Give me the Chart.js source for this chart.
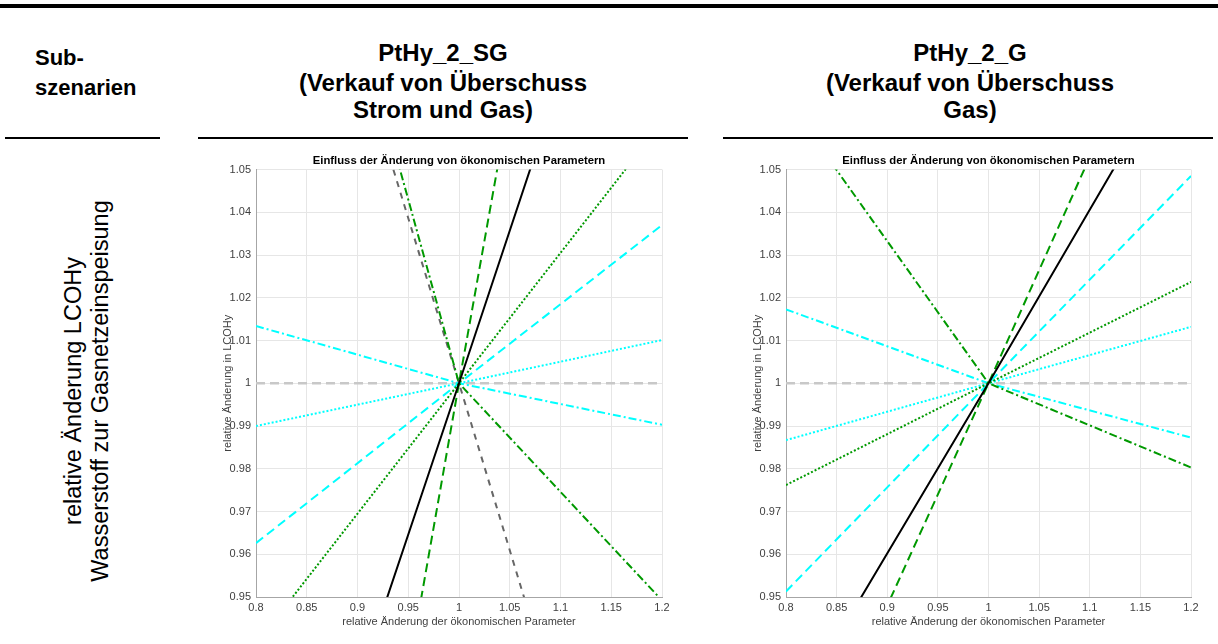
<!DOCTYPE html>
<html>
<head>
<meta charset="utf-8">
<script src="https://cdn.jsdelivr.net/npm/chart.js@4.4.0/dist/chart.umd.min.js"></script>
<style>
  body { margin: 0; background: #fff; width: 1218px; height: 644px; position: relative; overflow: hidden;
         font-family: "Liberation Sans", Arial, sans-serif; color: #000; }
  .rule { position: absolute; background: #000; }
  .hd { position: absolute; font-weight: bold; font-size: 24px; white-space: nowrap; transform: translate(-50%, -50%); }
  .hdl { position: absolute; font-weight: bold; font-size: 22px; white-space: nowrap; transform: translateY(-50%); }
  .side { position: absolute; left: 87px; top: 391px; font-size: 23.5px; line-height: 27px; text-align: center;
          white-space: nowrap; transform: translate(-50%, -50%) rotate(-90deg); }
  canvas { position: absolute; }
</style>
</head>
<body>

<div class="rule" style="left:0; top:4px; width:1218px; height:4px;"></div>
<div class="rule" style="left:5px; top:137px; width:155px; height:2px;"></div>
<div class="rule" style="left:198px; top:137px; width:490px; height:2px;"></div>
<div class="rule" style="left:723px; top:137px; width:490px; height:2px;"></div>

<div class="hdl" style="left:35px; top:58px;">Sub-</div>
<div class="hdl" style="left:35px; top:88px;">szenarien</div>

<div class="hd" style="left:443px; top:53px;">PtHy_2_SG</div>
<div class="hd" style="left:443px; top:83px;">(Verkauf von Überschuss</div>
<div class="hd" style="left:443px; top:110px;">Strom und Gas)</div>

<div class="hd" style="left:970px; top:53px;">PtHy_2_G</div>
<div class="hd" style="left:970px; top:83px;">(Verkauf von Überschuss</div>
<div class="hd" style="left:970px; top:110px;">Gas)</div>

<div class="side">relative Änderung LCOHy<br>Wasserstoff zur Gasnetzeinspeisung</div>

<canvas id="chartSG" width="462" height="484" style="left:218px; top:150px;"></canvas>
<canvas id="chartG" width="467" height="484" style="left:748px; top:150px;"></canvas>

<script>
// relative change of the parameter (x)
const xValues = [0.8, 1, 1.2];

// PtHy_2_SG - relative change of LCOHy
const sgBaseline    = [1, 1, 1];
const sgCyanDotted  = [0.99, 1, 1.0101];
const sgCyanDashed  = [0.9626, 1, 1.037];
const sgCyanDashDot = [1.0134, 1, 0.9903];
const sgGreenDotted = [0.939, 1, 1.061];
const sgGreenDashed = [0.73, 1, 1.266];
const sgBlack       = [0.8584, 1, 1.1428];
const sgGrayDashed  = [1.1546, 1, 0.8438];
const sgGreenDashDot = [1.172, 1, 0.9492];

// PtHy_2_G - relative change of LCOHy
const gBaseline    = [1, 1, 1];
const gCyanDotted  = [0.9867, 1, 1.0132];
const gGreenDotted = [0.9762, 1, 1.0237];
const gCyanDashed  = [0.9513, 1, 1.0485];
const gBlack       = [0.9204, 1, 1.0812];
const gGreenDashed = [0.896, 1, 1.1058];
const gGreenDashDot = [1.0665, 1, 0.9803];
const gCyanDashDot = [1.0173, 1, 0.9873];

const chartTitle = "Einfluss der Änderung von ökonomischen Parametern";
const xTitle = "relative Änderung der ökonomischen Parameter";
const yTitle = "relative Änderung in LCOHy";

const GREEN = "#009900";
const CYAN = "#00ffff";

const dash = {
  solid: [],
  dashed: [9, 5],
  grayDashed: [6, 6],
  dotted: [2, 2],
  dashDot: [8, 3, 2, 3]
};

function series(values, color, style, width) {
  return {
    data: xValues.map((x, i) => ({ x: x, y: values[i] })),
    borderColor: color,
    borderDash: dash[style],
    borderWidth: width || 2,
    borderCapStyle: "butt",
    pointRadius: 0,
    fill: false,
    tension: 0
  };
}

function fmt(v) {
  return String(Number(v.toFixed(2)));
}

function makeOptions(padRight) {
  return {
    responsive: false,
    animation: false,
    layout: { padding: { left: 3, right: padRight, top: 0, bottom: 3 } },
    plugins: {
      legend: { display: false },
      tooltip: { enabled: false },
      title: {
        display: true,
        text: chartTitle,
        fullSize: false,
        color: "#000",
        font: { family: "Liberation Sans, Arial", size: 11.3, weight: "bold" },
        padding: { top: 4, bottom: 2 }
      }
    },
    scales: {
      x: {
        type: "linear",
        min: 0.8,
        max: 1.2,
        afterFit: s => { s.height = 34; },
        ticks: {
          stepSize: 0.05,
          padding: 4,
          color: "#404040",
          font: { family: "Liberation Sans, Arial", size: 11 },
          callback: v => fmt(v)
        },
        grid: { color: "#e6e6e6", drawTicks: false },
        border: { color: "#a6a6a6" },
        title: {
          display: true,
          text: xTitle,
          color: "#404040",
          font: { family: "Liberation Sans, Arial", size: 11 },
          padding: { top: 0, bottom: 2 }
        }
      },
      y: {
        min: 0.95,
        max: 1.05,
        afterFit: s => { s.width = 35; },
        ticks: {
          stepSize: 0.01,
          padding: 5,
          color: "#404040",
          font: { family: "Liberation Sans, Arial", size: 11 },
          callback: v => fmt(v)
        },
        grid: { color: "#e6e6e6", drawTicks: false },
        border: { color: "#a6a6a6" },
        title: {
          display: true,
          text: yTitle,
          color: "#404040",
          font: { family: "Liberation Sans, Arial", size: 11 },
          padding: { top: 0, bottom: 0 }
        }
      }
    }
  };
}

new Chart(document.getElementById("chartSG"), {
  type: "line",
  data: {
    datasets: [
      series(sgBlack, "#000000", "solid"),
      series(sgGreenDashed, GREEN, "dashed"),
      series(sgGreenDotted, GREEN, "dotted"),
      series(sgGreenDashDot, GREEN, "dashDot"),
      series(sgGrayDashed, "#666666", "grayDashed"),
      series(sgCyanDashed, CYAN, "dashed"),
      series(sgCyanDotted, CYAN, "dotted"),
      series(sgCyanDashDot, CYAN, "dashDot"),
      series(sgBaseline, "#c8c8c8", "dashed", 2.5)
    ]
  },
  options: makeOptions(18)
});

new Chart(document.getElementById("chartG"), {
  type: "line",
  data: {
    datasets: [
      series(gBlack, "#000000", "solid"),
      series(gGreenDashed, GREEN, "dashed"),
      series(gGreenDotted, GREEN, "dotted"),
      series(gGreenDashDot, GREEN, "dashDot"),
      series(gCyanDashed, CYAN, "dashed"),
      series(gCyanDotted, CYAN, "dotted"),
      series(gCyanDashDot, CYAN, "dashDot"),
      series(gBaseline, "#c8c8c8", "dashed", 2.5)
    ]
  },
  options: makeOptions(24)
});
</script>
</body>
</html>
